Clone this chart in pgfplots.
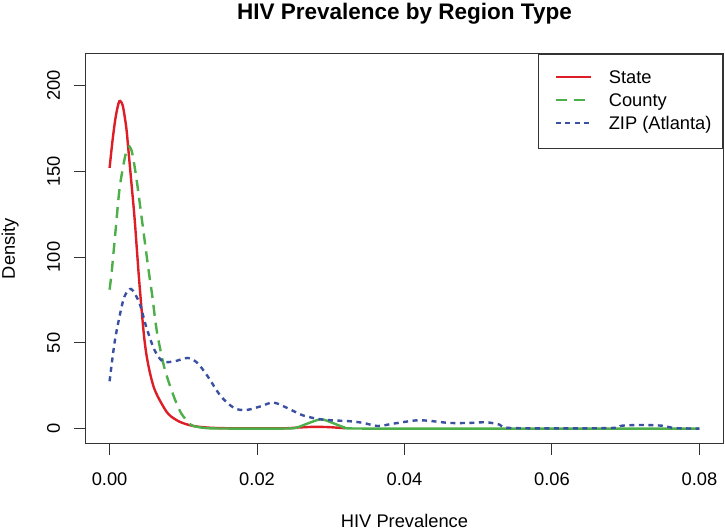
\documentclass[border=0pt]{standalone}
\usepackage{fontspec}
\setmainfont{Liberation Sans}
\usepackage{pgfplots}
\pgfplotsset{compat=1.18}
\definecolor{cRed}{RGB}{222,30,38}
\definecolor{cGreen}{RGB}{77,175,74}
\definecolor{cBlue}{RGB}{58,80,160}
\newcommand{\tf}{\fontsize{18.3}{22}\selectfont}
\begin{document}
\begin{tikzpicture}
\begin{axis}[
 at={(0pt,0pt)}, anchor=south west,
 width=637pt, height=389pt, scale only axis,
 xmin=-0.0032, xmax=0.0832, ymin=-8.4, ymax=218.4,
 axis line style={black!80, line width=1pt},
 xtick={0,0.02,0.04,0.06,0.08},
 ytick={0,50,100,150,200},
 xtick pos=bottom, ytick pos=left,
 tick align=outside, major tick length=12pt,
 every tick/.style={black!80, line width=1pt},
 /pgf/number format/assume math mode=true,
 scaled x ticks=false,
 xticklabel style={/pgf/number format/fixed, /pgf/number format/fixed zerofill, /pgf/number format/precision=2, anchor=base, yshift=-30pt, font=\tf},
 yticklabel style={rotate=90, anchor=base, yshift=14pt, font=\tf},
 xlabel={HIV Prevalence},
 ylabel={Density},
 xlabel style={at={(axis description cs:0.5,0)}, anchor=base, yshift=-84pt, font=\tf},
 ylabel style={at={(axis description cs:0,0.5)}, anchor=base, yshift=71pt, font=\tf},
 title={HIV Prevalence by Region Type},
 title style={at={(axis description cs:0.5,1)}, anchor=base, yshift=28pt, font=\bfseries\fontsize{22.5}{26}\selectfont},
 legend cell align=left,
 legend image code/.code={\path (0pt,0pt); \draw[#1] (6pt,1.5pt) -- (41pt,1.5pt);},
 legend style={at={(rel axis cs:1,1)}, anchor=north east, draw=black!80, line width=1pt, fill=white,
   font=\tf, inner xsep=10pt, inner ysep=12.5pt, row sep=0pt,
   nodes={inner xsep=1pt, inner ysep=2.8pt, text height=13.5pt, text depth=3.9pt},
   /tikz/every odd column/.append style={column sep=16pt}},
]
\addplot[cRed, line width=2.4pt, smooth, tension=0.5] coordinates {
(0,152)(0.0004,168)(0.0008,181)(0.0012,189.5)(0.00144,191)(0.0018,188)(0.00225,176)(0.0025,165)(0.0029,146)(0.0034,122)(0.0040,87)(0.0046,57)(0.0050,43)(0.0055,32)(0.0060,24)(0.0065,19)(0.0070,15)(0.0077,10)(0.0083,7.2)(0.0094,4.2)(0.0106,2.3)(0.012,1.1)(0.0141,0.4)(0.017,0.15)(0.021,0.1)(0.024,0.2)(0.0255,0.6)(0.0275,1.0)(0.0295,0.9)(0.031,0.5)(0.032,0.2)
};
\addplot[cGreen, line width=2.4pt, dash pattern=on 11pt off 7pt, smooth, tension=0.5] coordinates {
(0,81)(0.0003,92)(0.0008,115)(0.0013,138)(0.0018,152)(0.0023,162)(0.0027,164.5)(0.0031,160)(0.0037,144)(0.0045,118)(0.0053,92)(0.0058,77)(0.0064,57)(0.0074,36)(0.0086,20)(0.0097,9)(0.011,2.3)(0.0116,1.3)
};
\addplot[cGreen, line width=2.4pt, smooth, tension=0.5, forget plot] coordinates {
(0.0116,1.3)(0.0128,0.4)(0.015,0.05)(0.024,0.05)(0.0255,0.8)(0.027,3.2)(0.0287,5.4)(0.0303,3.2)(0.0318,0.8)(0.0335,0.05)(0.05,0)(0.08,0)
};
\addplot[cBlue, line width=2.4pt, dash pattern=on 5pt off 4.5pt, smooth, tension=0.5] coordinates {
(0,27.6)(0.00067,50)(0.00135,65.4)(0.00202,77)(0.00293,81.4)(0.00405,73.2)(0.00495,59.6)(0.00607,46)(0.0072,39.2)(0.00877,39.2)(0.0106,41.2)(0.0119,38.3)(0.0133,30.5)(0.0151,18.8)(0.0169,12)(0.0185,10.8)(0.0205,13)(0.0222,15.2)(0.0241,12)(0.0263,7.6)(0.029,5.2)(0.0326,4.3)(0.0344,3.3)(0.0364,1.5)(0.0385,2.9)(0.0416,4.8)(0.0434,4.5)(0.0461,3.3)(0.0488,3.3)(0.0511,3.7)(0.0529,2.3)(0.0547,0.3)(0.0677,0.3)(0.0695,1.7)(0.0722,2.1)(0.0749,1.7)(0.0767,0.3)(0.08,0)
};
\legend{State, County, ZIP (Atlanta)}
\end{axis}
\pgfresetboundingbox
\path[use as bounding box] (-86pt,-87pt) rectangle (639pt,443pt);
\end{tikzpicture}
\end{document}
